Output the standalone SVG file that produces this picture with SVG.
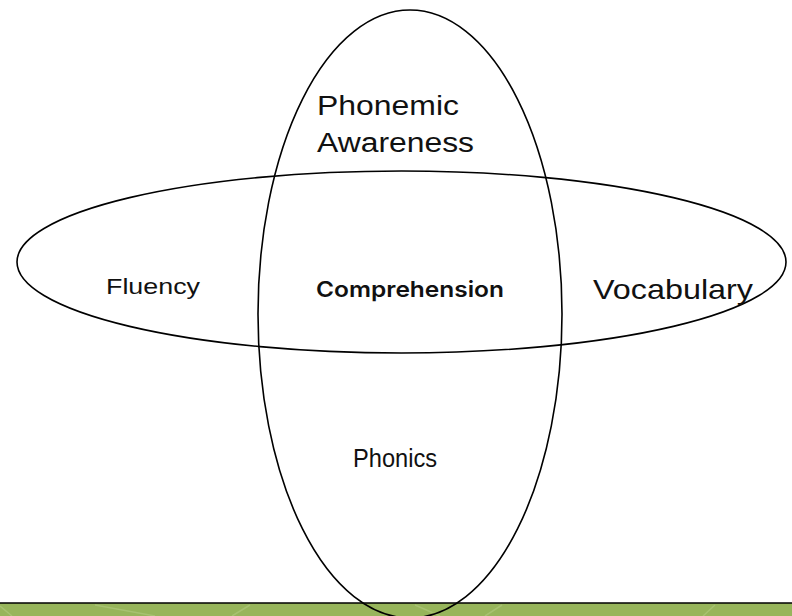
<svg xmlns="http://www.w3.org/2000/svg" width="792" height="616" viewBox="0 0 792 616">
<style>
.ell{fill:none;stroke:#000;stroke-width:1.6}
.t{font-family:"Liberation Sans",Arial,sans-serif;fill:#111}
</style>
<rect x="0" y="0" width="792" height="616" fill="#fff"/>
<g id="band">
<rect x="0" y="603" width="792" height="13" fill="#97b55b"/>
<line x1="0" y1="603" x2="792" y2="603" stroke="#000" stroke-width="1.6"/>
<path d="M95 605 L155 616 M0 606 L12 616 M232 616 L250 605 M415 605 L440 616 M485 616 L502 605 M703 616 L715 605" stroke="#aec77a" stroke-width="1.5" fill="none" opacity="0.7"/>
</g>
<g id="vertical-ellipse"><ellipse class="ell" cx="410" cy="314" rx="152" ry="304"/></g>
<g id="horizontal-ellipse"><ellipse class="ell" cx="401.5" cy="262" rx="384.5" ry="91"/></g>
<g id="phonemic-awareness">
<text class="t" x="317" y="115" font-size="27" textLength="142" lengthAdjust="spacingAndGlyphs">Phonemic</text>
<text class="t" x="317" y="152" font-size="27" textLength="157" lengthAdjust="spacingAndGlyphs">Awareness</text>
</g>
<g id="fluency"><text class="t" x="106" y="294" font-size="22" textLength="94" lengthAdjust="spacingAndGlyphs">Fluency</text></g>
<g id="comprehension"><text class="t" x="316" y="297" font-size="22" style="font-family:Inter,'Liberation Sans',sans-serif;font-weight:600" textLength="188" lengthAdjust="spacingAndGlyphs">Comprehension</text></g>
<g id="vocabulary"><text class="t" x="593" y="299" font-size="28" textLength="160" lengthAdjust="spacingAndGlyphs">Vocabulary</text></g>
<g id="phonics"><text class="t" x="353" y="467" font-size="26" textLength="84" lengthAdjust="spacingAndGlyphs">Phonics</text></g>
</svg>
